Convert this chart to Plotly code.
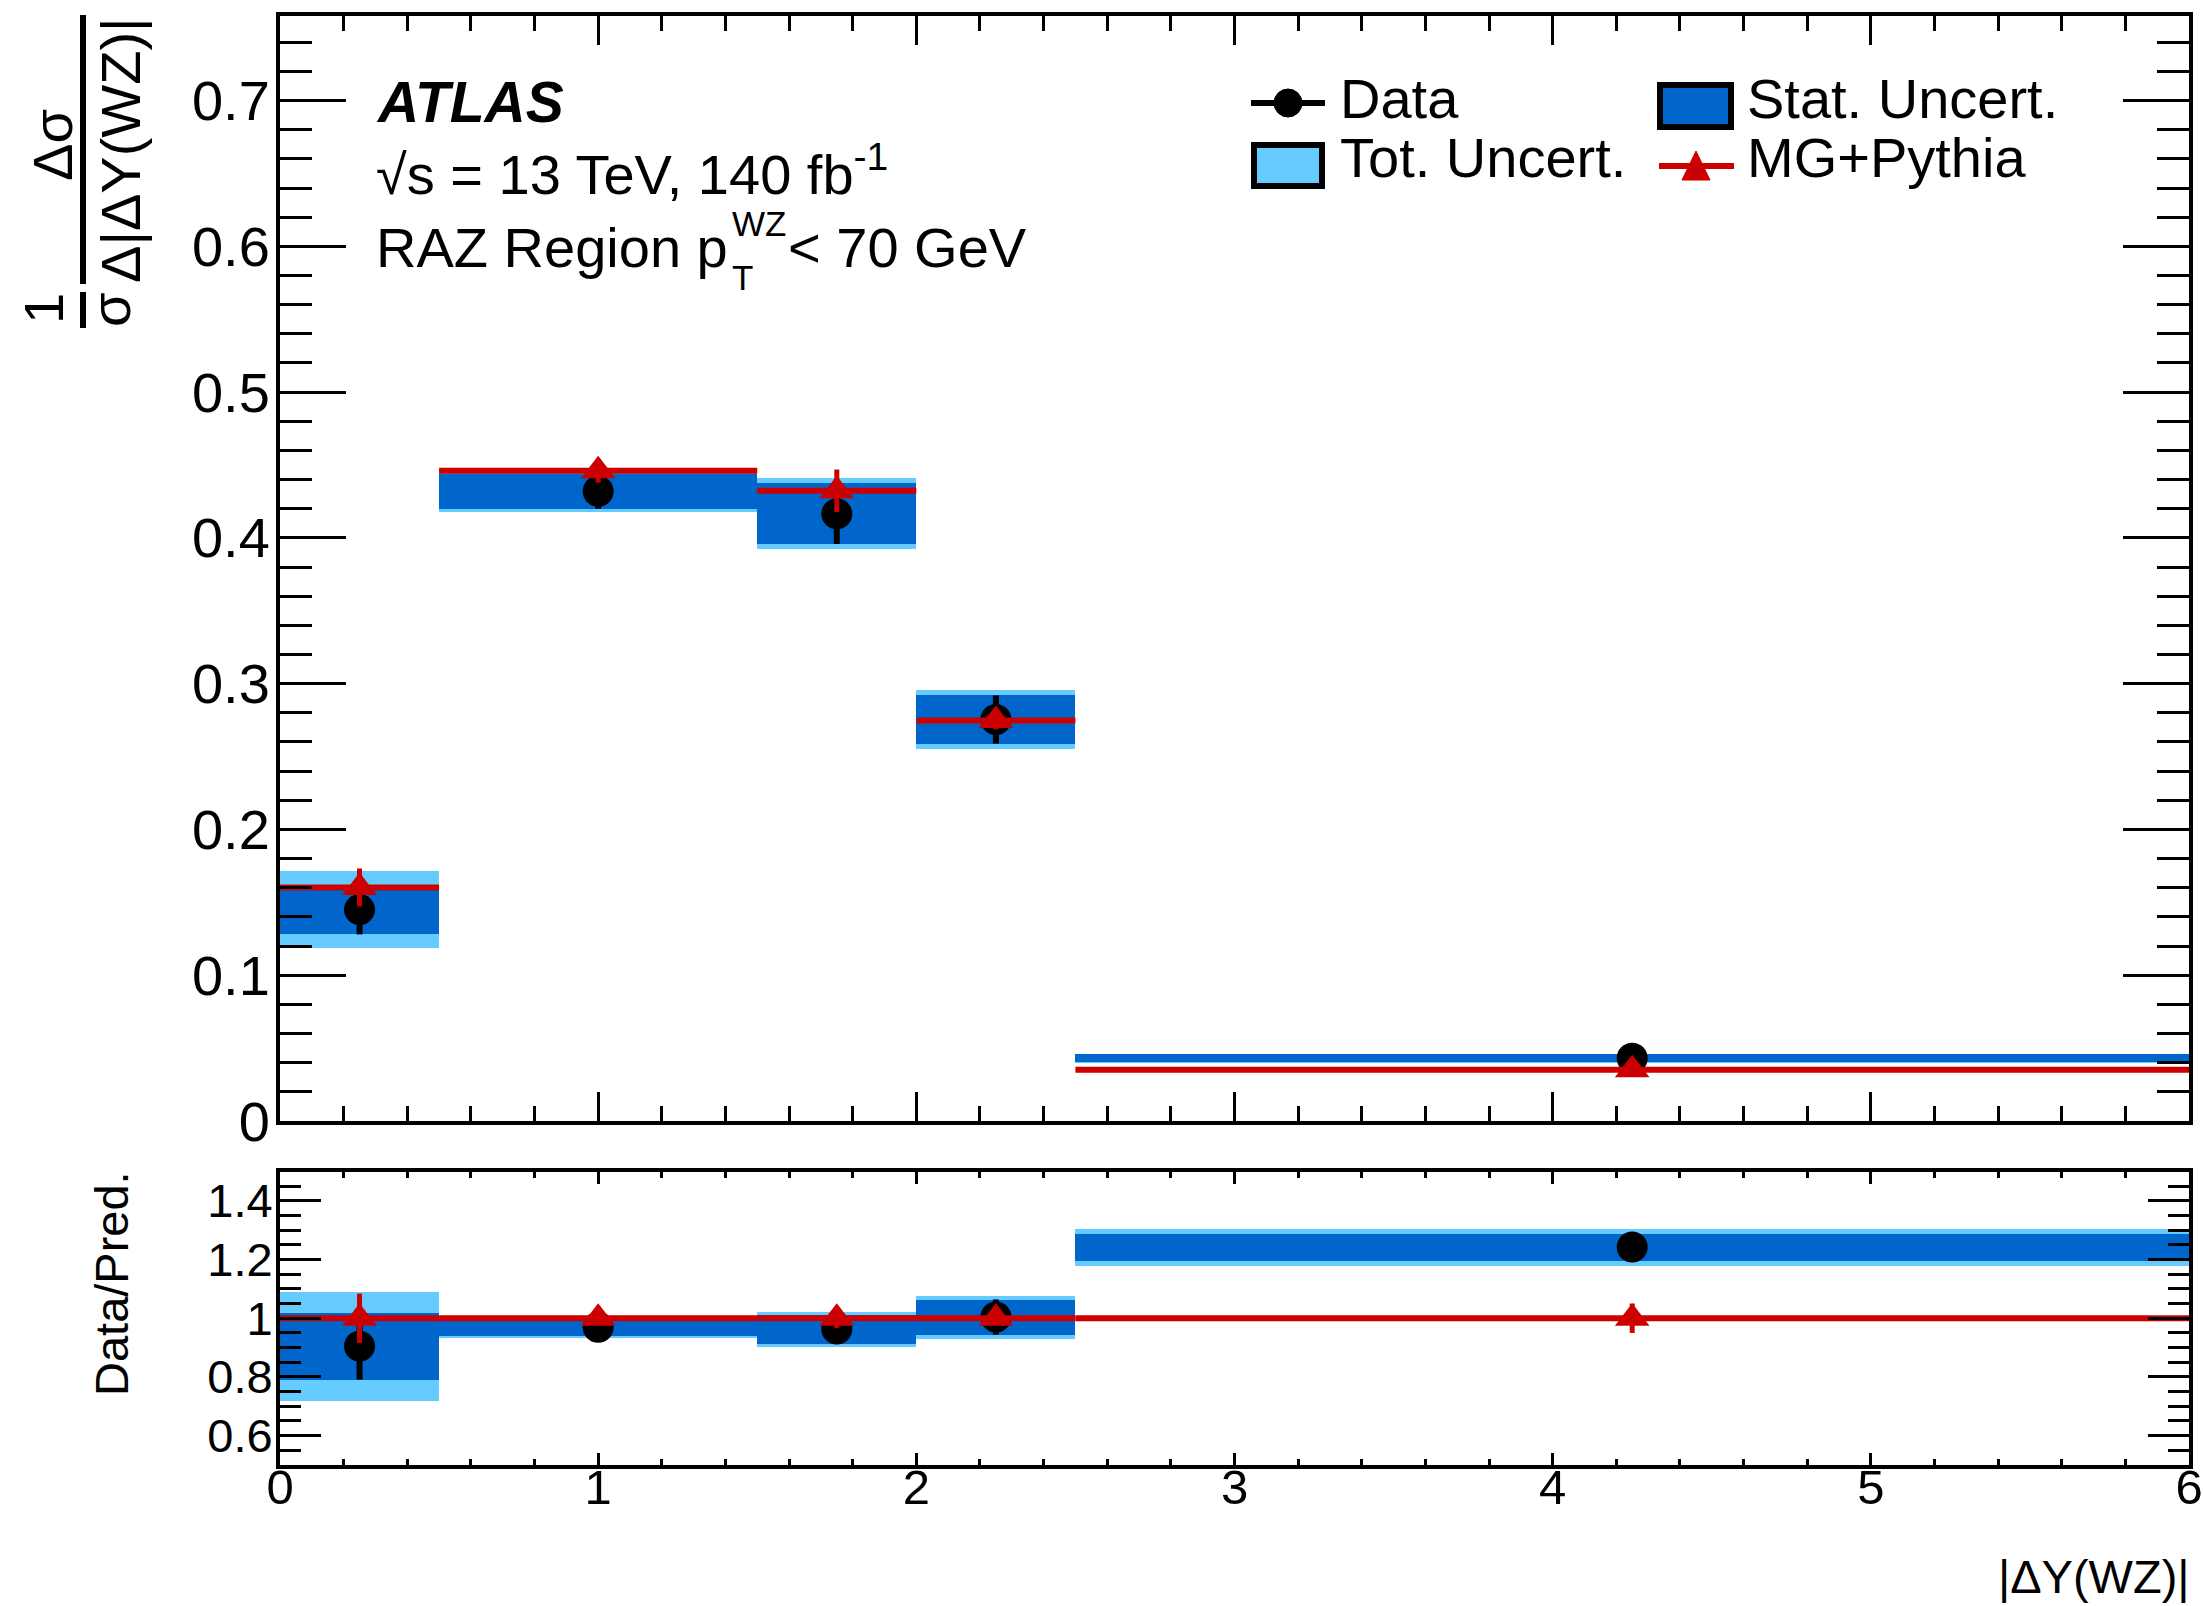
import plotly.graph_objects as go

# ---------------- data ----------------
bin_lo = [0.0, 0.5, 1.5, 2.0, 2.5]
bin_hi = [0.5, 1.5, 2.0, 2.5, 6.0]

data_val = [0.145, 0.432, 0.4166, 0.2754, 0.0431]
data_stat = [0.017, 0.012, 0.0208, 0.0165, 0.0027]
data_tot = [0.0265, 0.0145, 0.0243, 0.0200, 0.0032]

mc_val = [0.1602, 0.446, 0.4323, 0.2747, 0.0352]
mc_err = [0.013, 0.008, 0.0146, 0.006, 0.0018]

ratio_val = [0.905, 0.969, 0.963, 1.004, 1.243]
ratio_stat = [0.114, 0.029, 0.050, 0.060, 0.046]
ratio_tot = [0.185, 0.036, 0.060, 0.074, 0.063]

mc_ratio = [1.0, 1.0, 1.0, 1.0, 1.0]
mc_ratio_err = [0.084, 0.02, 0.034, 0.022, 0.05]

legend_labels = ["Data", "Stat. Uncert.", "Tot. Uncert.", "MG+Pythia"]

# ---------------- style ----------------
W, H = 2203, 1606
ML, MR, MT, MB = 280, 14, 16, 141
PW, PH = W - ML - MR, H - MT - MB
FONT = "Liberation Sans, Arial, Helvetica, sans-serif"
RED = "#cc0000"
STAT = "#0066cc"
TOT = "#66ccff"

centers = [(a + b) / 2 for a, b in zip(bin_lo, bin_hi)]
widths = [b - a for a, b in zip(bin_lo, bin_hi)]
halfw = [w / 2 for w in widths]


def fx(px):
    return (px - ML) / PW


def fy(py):
    return (H - MB - py) / PH


main_dom = [fy(1121), 1.0]
ratio_dom = [0.0, fy(1171.5)]

fig = go.Figure()


def band(vals, errs, color, xa, ya):
    fig.add_trace(go.Bar(
        x=centers, y=[2 * e for e in errs], base=[v - e for v, e in zip(vals, errs)],
        width=widths, marker=dict(color=color, line=dict(width=0)),
        xaxis=xa, yaxis=ya, showlegend=False, hoverinfo="skip"))


# main panel
band(data_val, data_tot, TOT, "x", "y")
band(data_val, data_stat, STAT, "x", "y")
fig.add_trace(go.Scatter(
    x=centers, y=data_val, mode="markers",
    marker=dict(symbol="circle", size=31, color="black"),
    error_y=dict(type="data", array=data_stat, color="black", thickness=6, width=0),
    xaxis="x", yaxis="y", showlegend=False, name="Data"))
fig.add_trace(go.Scatter(
    x=centers, y=mc_val, mode="markers",
    marker=dict(symbol="triangle-up", size=30, color=RED),
    error_x=dict(type="data", array=halfw, color=RED, thickness=6, width=0),
    error_y=dict(type="data", array=mc_err, color=RED, thickness=5, width=0),
    xaxis="x", yaxis="y", showlegend=False, name="MG+Pythia"))

# ratio panel
band(ratio_val, ratio_tot, TOT, "x2", "y2")
band(ratio_val, ratio_stat, STAT, "x2", "y2")
fig.add_trace(go.Scatter(
    x=centers, y=ratio_val, mode="markers",
    marker=dict(symbol="circle", size=31, color="black"),
    error_y=dict(type="data", array=ratio_stat, color="black", thickness=6, width=0),
    xaxis="x2", yaxis="y2", showlegend=False))
fig.add_trace(go.Scatter(
    x=centers, y=mc_ratio, mode="markers",
    marker=dict(symbol="triangle-up", size=30, color=RED),
    error_x=dict(type="data", array=halfw, color=RED, thickness=6, width=0),
    error_y=dict(type="data", array=mc_ratio_err, color=RED, thickness=5, width=0),
    xaxis="x2", yaxis="y2", showlegend=False))


def ax(**kw):
    d = dict(showline=True, linewidth=4, linecolor="black", mirror="allticks",
             ticks="inside", tickwidth=3, tickcolor="black", showgrid=False,
             zeroline=False, automargin=False,
             tickfont=dict(family=FONT, size=56, color="black"))
    d.update(kw)
    return d


fig.update_layout(
    width=W, height=H, plot_bgcolor="white", paper_bgcolor="white",
    margin=dict(l=ML, r=MR, t=MT, b=MB), barmode="overlay", bargap=0,
    font=dict(family=FONT, color="black"), showlegend=False,
    xaxis=ax(domain=[0, 1], range=[0, 6], anchor="y", dtick=1, tick0=0, ticklen=29,
             showticklabels=False,
             minor=dict(dtick=0.2, ticklen=15, tickwidth=3, ticks="inside", tickcolor="black")),
    yaxis=ax(domain=main_dom, range=[0, 0.758], anchor="x", dtick=0.1, tick0=0, ticklen=66,
             ticklabelstandoff=-5,
             minor=dict(dtick=0.02, ticklen=32, tickwidth=3, ticks="inside", tickcolor="black")),
    xaxis2=ax(domain=[0, 1], range=[0, 6], anchor="y2", dtick=1, tick0=0, ticklen=12,
              ticklabelstandoff=-24,
              tickfont=dict(family=FONT, size=49, color="black"),
              minor=dict(dtick=0.2, ticklen=6, tickwidth=3, ticks="inside", tickcolor="black")),
    yaxis2=ax(domain=ratio_dom, range=[0.5, 1.5], anchor="x2", dtick=0.2, tick0=0, ticklen=41,
              ticklabelstandoff=-6,
              tickfont=dict(family=FONT, size=47, color="black"),
              minor=dict(dtick=0.05, ticklen=21, tickwidth=3, ticks="inside", tickcolor="black")),
)

ann = []
shapes = []


def text(px, py, s, size=56, xanchor="left", yanchor="middle", angle=0, **kw):
    ann.append(dict(x=fx(px), y=fy(py), xref="paper", yref="paper", text=s,
                    showarrow=False, xanchor=xanchor, yanchor=yanchor, textangle=angle,
                    font=dict(family=FONT, size=size, color="black"), **kw))


# ATLAS label block
text(374, 102, "<b><i>ATLAS</i></b>", size=57)
text(374, 170, "√s = 13 TeV, 140 fb<sup>-1</sup>", size=56)
text(374, 247, "RAZ Region p", size=56)
text(730, 224, "WZ", size=35)
text(730, 277, "T", size=35)
text(786, 247, "< 70 GeV", size=56)

# y title (fraction form)
text(53, 145, "Δσ", size=56, xanchor="center", angle=-90)
text(120, 150, "Δ|ΔY(WZ)|", size=56, xanchor="center", angle=-90)
text(44, 309, "1", size=56, xanchor="center", angle=-90)
text(110, 310, "σ", size=56, xanchor="center", angle=-90)
shapes.append(dict(type="line", xref="paper", yref="paper", x0=fx(83), x1=fx(83),
                   y0=fy(15), y1=fy(284), line=dict(color="black", width=6)))
shapes.append(dict(type="line", xref="paper", yref="paper", x0=fx(83), x1=fx(83),
                   y0=fy(292), y1=fy(328), line=dict(color="black", width=6)))

# ratio y title and x title
text(111, 1284, "Data/Pred.", size=47, xanchor="center", angle=-90)
text(2192, 1577, "|ΔY(WZ)|", size=47, xanchor="right")

# legend (manual, two columns)
shapes.append(dict(type="line", xref="paper", yref="paper", x0=fx(1251), x1=fx(1325),
                   y0=fy(103), y1=fy(103), line=dict(color="black", width=6)))
shapes.append(dict(type="circle", xref="paper", yref="paper", x0=fx(1274), x1=fx(1302),
                   y0=fy(117), y1=fy(89), fillcolor="black", line=dict(color="black", width=1)))
text(1338, 99, legend_labels[0])

shapes.append(dict(type="rect", xref="paper", yref="paper", x0=fx(1660), x1=fx(1731),
                   y0=fy(127), y1=fy(85), fillcolor=STAT, line=dict(color="black", width=6)))
text(1745, 99, legend_labels[1])

shapes.append(dict(type="rect", xref="paper", yref="paper", x0=fx(1254), x1=fx(1322),
                   y0=fy(186), y1=fy(145), fillcolor=TOT, line=dict(color="black", width=6)))
text(1338, 158, legend_labels[2])

shapes.append(dict(type="line", xref="paper", yref="paper", x0=fx(1659), x1=fx(1734),
                   y0=fy(166), y1=fy(166), line=dict(color=RED, width=6)))
shapes.append(dict(type="path", xref="paper", yref="paper",
                   path=f"M {fx(1696)},{fy(151)} L {fx(1710)},{fy(180)} L {fx(1682)},{fy(180)} Z",
                   fillcolor=RED, line=dict(color=RED, width=1)))
text(1745, 158, legend_labels[3])

fig.update_layout(annotations=ann, shapes=shapes)
fig.write_html("out.html", config={"displayModeBar": False},
               post_script="document.body.style.margin='0px';document.body.style.overflow='hidden';")
